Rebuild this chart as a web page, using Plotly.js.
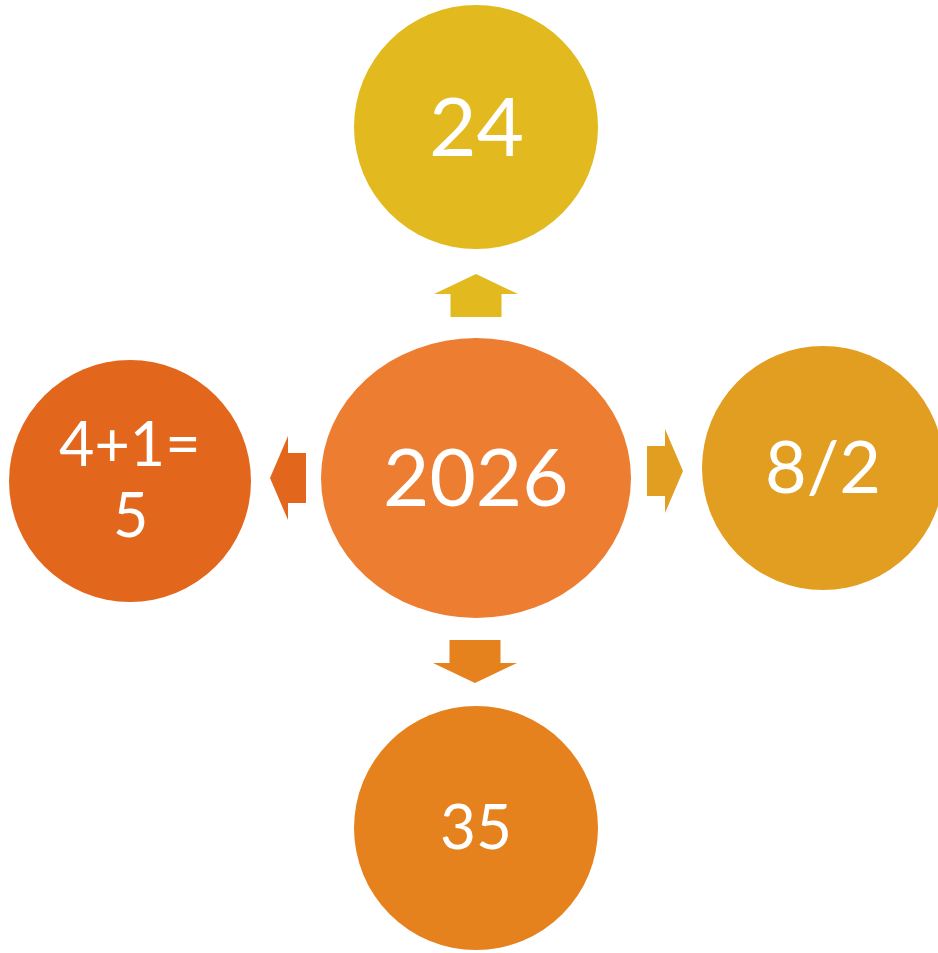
<!DOCTYPE html>
<html><head><meta charset="utf-8">
<script src="https://cdn.plot.ly/plotly-3.0.1.min.js"></script>
<style>html,body{margin:0;padding:0;background:#ffffff;}</style>
</head><body>
<div id="chart" style="width:938px;height:953px;"></div>
<script>
// Node labels and colours
var nodeLabels = ["2026", "24", "8/2", "35", "4+1=\n5"];
var nodeColors = ["#ED7D31", "#E2B91F", "#E29E20", "#E5821D", "#E2661C"];
var nodeX = [476, 476, 823, 476, 130];
var nodeY = [478, 127, 468, 828, 481];
var nodeRx = [155, 122, 121, 122, 121];
var nodeRy = [140, 122, 122, 122, 121];
var fontSizes = [80, 82, 72, 62, 61];
// Arrows: from centre to each outer node
var arrowDirs = ["up", "right", "down", "left"];
var arrowColors = ["#E2B91F", "#E29E20", "#E5821D", "#E2661C"];
var arrowTipX = [476, 683, 475, 270];
var arrowTipY = [274, 471, 683, 478];

var shapes = [];
for (var i = 0; i < nodeLabels.length; i++) {
  shapes.push({type: "circle", xref: "x", yref: "y",
    x0: nodeX[i] - nodeRx[i], x1: nodeX[i] + nodeRx[i],
    y0: nodeY[i] - nodeRy[i], y1: nodeY[i] + nodeRy[i],
    fillcolor: nodeColors[i], line: {width: 0}, layer: "above"});
}
function arrowPath(dir, tx, ty) {
  var hl, hw, sw, sl, pts;
  if (dir === "up" || dir === "down") {
    hl = 20; hw = 42; sw = 25.5; sl = 23;
    var s = dir === "up" ? 1 : -1;
    pts = [[tx, ty], [tx + hw, ty + s*hl], [tx + sw, ty + s*hl], [tx + sw, ty + s*(hl+sl)],
           [tx - sw, ty + s*(hl+sl)], [tx - sw, ty + s*hl], [tx - hw, ty + s*hl]];
  } else {
    hl = 18; hw = 42; sw = 25; sl = 18;
    var s2 = dir === "left" ? 1 : -1;
    pts = [[tx, ty], [tx + s2*hl, ty - hw], [tx + s2*hl, ty - sw], [tx + s2*(hl+sl), ty - sw],
           [tx + s2*(hl+sl), ty + sw], [tx + s2*hl, ty + sw], [tx + s2*hl, ty + hw]];
  }
  return "M" + pts.map(function(p){return p[0] + "," + p[1];}).join("L") + "Z";
}
for (var j = 0; j < arrowDirs.length; j++) {
  shapes.push({type: "path", xref: "x", yref: "y",
    path: arrowPath(arrowDirs[j], arrowTipX[j], arrowTipY[j]),
    fillcolor: arrowColors[j], line: {width: 0}, layer: "above"});
}

var annotations = [];
for (var k = 0; k < nodeLabels.length; k++) {
  var lines = nodeLabels[k].split("\n");
  var pitch = fontSizes[k] * 1.15;
  for (var m = 0; m < lines.length; m++) {
    var off = (m - (lines.length - 1) / 2) * pitch;
    annotations.push({x: nodeX[k], y: nodeY[k] - 3 + off, xref: "x", yref: "y",
      text: lines[m], showarrow: false,
      font: {family: "Lato, 'Open Sans', sans-serif", size: fontSizes[k], color: "#ffffff"},
      xanchor: "center", yanchor: "middle", align: "center"});
  }
}

var layout = {
  width: 938, height: 953,
  margin: {l: 0, r: 0, t: 0, b: 0, pad: 0},
  paper_bgcolor: "#ffffff", plot_bgcolor: "#ffffff",
  xaxis: {range: [0, 938], visible: false, fixedrange: true},
  yaxis: {range: [953, 0], visible: false, fixedrange: true},
  shapes: shapes, annotations: annotations, showlegend: false
};
Plotly.newPlot("chart", [{x: [], y: [], type: "scatter", hoverinfo: "skip"}], layout, {staticPlot: true, displayModeBar: false});
</script>
</body></html>
